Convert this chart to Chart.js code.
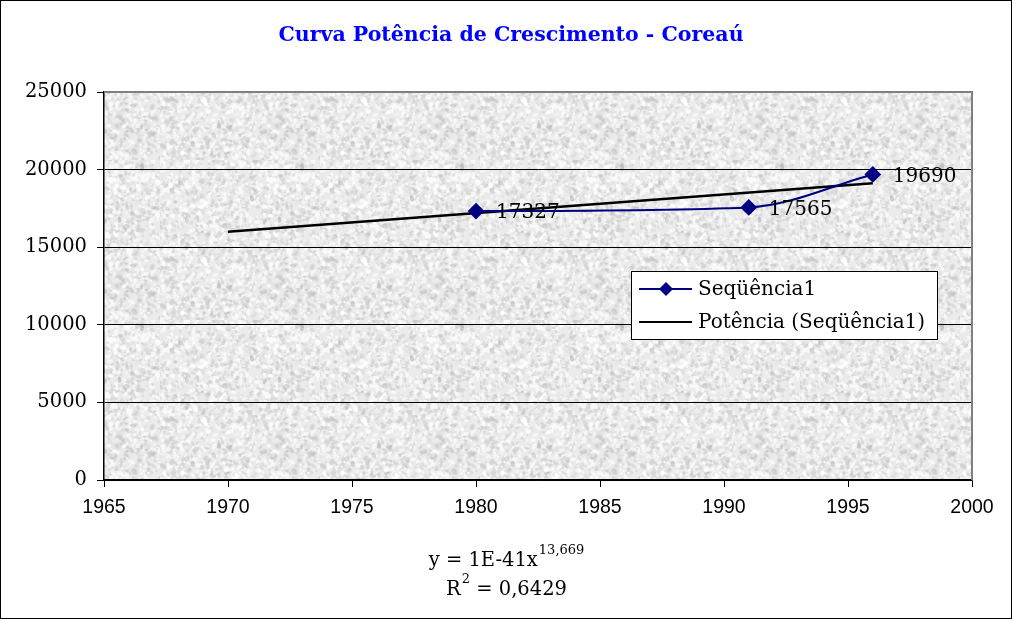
<!DOCTYPE html>
<html>
<head>
<meta charset="utf-8">
<script src="https://cdn.jsdelivr.net/npm/chart.js@4.4.1/dist/chart.umd.min.js"></script>
<style>
  html, body { margin: 0; padding: 0; background: #ffffff; }
  #wrap { width: 1012px; height: 619px; position: relative; }
</style>
</head>
<body>
<div id="wrap"><canvas id="c" width="1012" height="619"></canvas></div>
<script>
// ---- data ----
const years = [1980, 1991, 1996];
const population = [17327, 17565, 19690];
const trendYears = [1970, 1996];
const trendValues = [16000, 19120];
const xTicks = [1965, 1970, 1975, 1980, 1985, 1990, 1995, 2000];
const yTicks = [0, 5000, 10000, 15000, 20000, 25000];
const titleText = 'Curva Potência de Crescimento - Coreaú';
const seriesName = 'Seqüência1';
const trendName = 'Potência (Seqüência1)';
const equationMain = 'y = 1E-41x';
const equationExp = '13,669';
const r2Main = 'R';
const r2Exp = '2';
const r2Rest = ' = 0,6429';

const serif = '"DejaVu Serif", serif';
const sans = '"Liberation Sans", Arial, sans-serif';

// texture pattern (styling only)
function makeTexture() {
  const c = document.createElement('canvas');
  c.width = 160; c.height = 160;
  const g = c.getContext('2d');
  g.fillStyle = '#ebebeb';
  g.fillRect(0, 0, 160, 160);
  let s = 12345;
  const rnd = () => { s = (s * 1103515245 + 12345) & 0x7fffffff; return s / 0x7fffffff; };
  for (let i = 0; i < 2600; i++) {
    const x = rnd() * 160, y = rnd() * 160;
    const r = 0.6 + rnd() * 1.6;
    const dark = rnd() < 0.5;
    const v = dark ? Math.floor(180 + rnd() * 40) : 255;
    g.fillStyle = 'rgba(' + v + ',' + v + ',' + v + ',' + (dark ? 0.4 : 0.6) + ')';
    g.beginPath();
    g.ellipse(x, y, r * (1 + rnd()), r, rnd() * Math.PI, 0, Math.PI * 2);
    g.fill();
  }
  return c;
}
const textureCanvas = makeTexture();

const bgPlugin = {
  id: 'bg',
  beforeDraw(chart) {
    const { ctx, chartArea: a } = chart;
    ctx.save();
    ctx.fillStyle = '#ffffff';
    ctx.fillRect(0, 0, chart.width, chart.height);
    ctx.fillStyle = ctx.createPattern(textureCanvas, 'repeat');
    ctx.fillRect(a.left, a.top, a.right - a.left, a.bottom - a.top);
    ctx.restore();
  },
  afterDraw(chart) {
    const { ctx } = chart;
    ctx.save();
    // outer frame
    ctx.strokeStyle = '#000000';
    ctx.lineWidth = 1;
    ctx.strokeRect(0.5, 0.5, chart.width - 1, chart.height - 1);
    // title
    ctx.fillStyle = '#0000ff';
    ctx.font = 'bold 20.5px ' + serif;
    ctx.textAlign = 'center';
    ctx.textBaseline = 'alphabetic';
    ctx.fillText(titleText, 511, 41);
    // equation
    ctx.fillStyle = '#000000';
    ctx.textAlign = 'left';
    const big = '19.5px ' + serif, small = '13px ' + serif;
    ctx.font = big;
    const w1 = ctx.measureText(equationMain).width;
    ctx.font = small;
    const w2 = ctx.measureText(equationExp).width;
    let x0 = 506 - (w1 + w2) / 2;
    ctx.font = big;
    ctx.fillText(equationMain, x0, 566);
    ctx.font = small;
    ctx.fillText(equationExp, x0 + w1 + 1, 554);
    ctx.font = big;
    const wr = ctx.measureText(r2Main).width;
    const wrest = ctx.measureText(r2Rest).width;
    ctx.font = small;
    const we = ctx.measureText(r2Exp).width;
    x0 = 506 - (wr + we + wrest) / 2;
    ctx.font = big;
    ctx.fillText(r2Main, x0, 595);
    ctx.font = small;
    ctx.fillText(r2Exp, x0 + wr + 1, 583);
    ctx.font = big;
    ctx.fillText(r2Rest, x0 + wr + we + 1, 595);
    ctx.restore();
  }
};

const framePlugin = {
  id: 'frame',
  beforeDatasetsDraw(chart) {
    const { ctx, chartArea: a } = chart;
    ctx.save();
    ctx.strokeStyle = '#808080';
    ctx.lineWidth = 2;
    ctx.beginPath();
    ctx.moveTo(a.left, a.top);
    ctx.lineTo(a.right, a.top);
    ctx.lineTo(a.right, a.bottom);
    ctx.stroke();
    ctx.restore();
  }
};

const labelPlugin = {
  id: 'labels',
  afterDatasetsDraw(chart) {
    const { ctx } = chart;
    const meta = chart.getDatasetMeta(0);
    ctx.save();
    ctx.fillStyle = '#000000';
    ctx.font = '20px ' + serif;
    ctx.textAlign = 'left';
    ctx.textBaseline = 'middle';
    meta.data.forEach((pt, i) => {
      ctx.fillText(String(population[i]), pt.x + 20, pt.y + 2);
    });
    ctx.restore();
  }
};

const legendPlugin = {
  id: 'customLegend',
  afterDraw(chart) {
    const { ctx } = chart;
    const ds = chart.data.datasets;
    ctx.save();
    ctx.fillStyle = '#ffffff';
    ctx.fillRect(631, 271, 307, 69);
    ctx.strokeStyle = '#000000';
    ctx.lineWidth = 1;
    ctx.strokeRect(631.5, 271.5, 306, 68);
    const rows = [289, 322];
    ds.forEach((d, i) => {
      const y = rows[i];
      ctx.strokeStyle = d.borderColor;
      ctx.lineWidth = 2;
      ctx.beginPath();
      ctx.moveTo(639, y);
      ctx.lineTo(692, y);
      ctx.stroke();
      if (d.pointRadius > 0) {
        ctx.fillStyle = d.pointBackgroundColor;
        ctx.beginPath();
        ctx.moveTo(666, y - 7);
        ctx.lineTo(673, y);
        ctx.lineTo(666, y + 7);
        ctx.lineTo(659, y);
        ctx.closePath();
        ctx.fill();
      }
      ctx.fillStyle = '#000000';
      ctx.font = '20px ' + serif;
      ctx.textAlign = 'left';
      ctx.textBaseline = 'middle';
      ctx.fillText(d.label, 698, y + 1);
    });
    ctx.restore();
  }
};

new Chart(document.getElementById('c'), {
  type: 'line',
  data: {
    datasets: [
      {
        label: seriesName,
        data: years.map((x, i) => ({ x: x, y: population[i] })),
        borderColor: '#000080',
        backgroundColor: '#000080',
        pointBackgroundColor: '#000080',
        pointBorderColor: '#000080',
        pointStyle: 'rectRot',
        pointRadius: 7,
        borderWidth: 2,
        cubicInterpolationMode: 'monotone',
        order: 0
      },
      {
        label: trendName,
        data: trendYears.map((x, i) => ({ x: x, y: trendValues[i] })),
        borderColor: '#000000',
        backgroundColor: '#000000',
        pointBackgroundColor: '#000000',
        pointRadius: 0,
        borderWidth: 2.5,
        order: 1
      }
    ]
  },
  options: {
    responsive: false,
    animation: false,
    layout: { padding: { left: 0, right: 40, top: 92, bottom: 0 } },
    plugins: {
      legend: { display: false },
      title: { display: false },
      tooltip: { enabled: false }
    },
    scales: {
      x: {
        type: 'linear',
        min: xTicks[0],
        max: xTicks[xTicks.length - 1],
        afterBuildTicks(axis) { axis.ticks = xTicks.map(v => ({ value: v })); },
        afterFit(axis) { axis.height = 139; },
        grid: { drawOnChartArea: false, drawTicks: true, tickLength: 7, color: '#000000', lineWidth: 1 },
        border: { color: '#000000', width: 1.5 },
        ticks: {
          color: '#000000',
          font: { family: sans, size: 19.5 },
          padding: 9,
          maxRotation: 0,
          autoSkip: false,
          callback: v => String(v)
        }
      },
      y: {
        type: 'linear',
        min: yTicks[0],
        max: yTicks[yTicks.length - 1],
        afterBuildTicks(axis) { axis.ticks = yTicks.map(v => ({ value: v })); },
        afterFit(axis) { axis.width = 104; },
        grid: {
          drawTicks: true,
          tickLength: 7,
          color: ctx => (ctx.tick && ctx.tick.value === 25000) ? 'rgba(0,0,0,0)' : '#000000',
          tickColor: '#000000',
          lineWidth: 1
        },
        border: { color: '#000000', width: 1.5 },
        ticks: {
          color: '#000000',
          font: { family: serif, size: 19.5 },
          padding: 10,
          autoSkip: false,
          callback: v => String(v)
        }
      }
    }
  },
  plugins: [bgPlugin, framePlugin, labelPlugin, legendPlugin]
});
</script>
</body>
</html>
